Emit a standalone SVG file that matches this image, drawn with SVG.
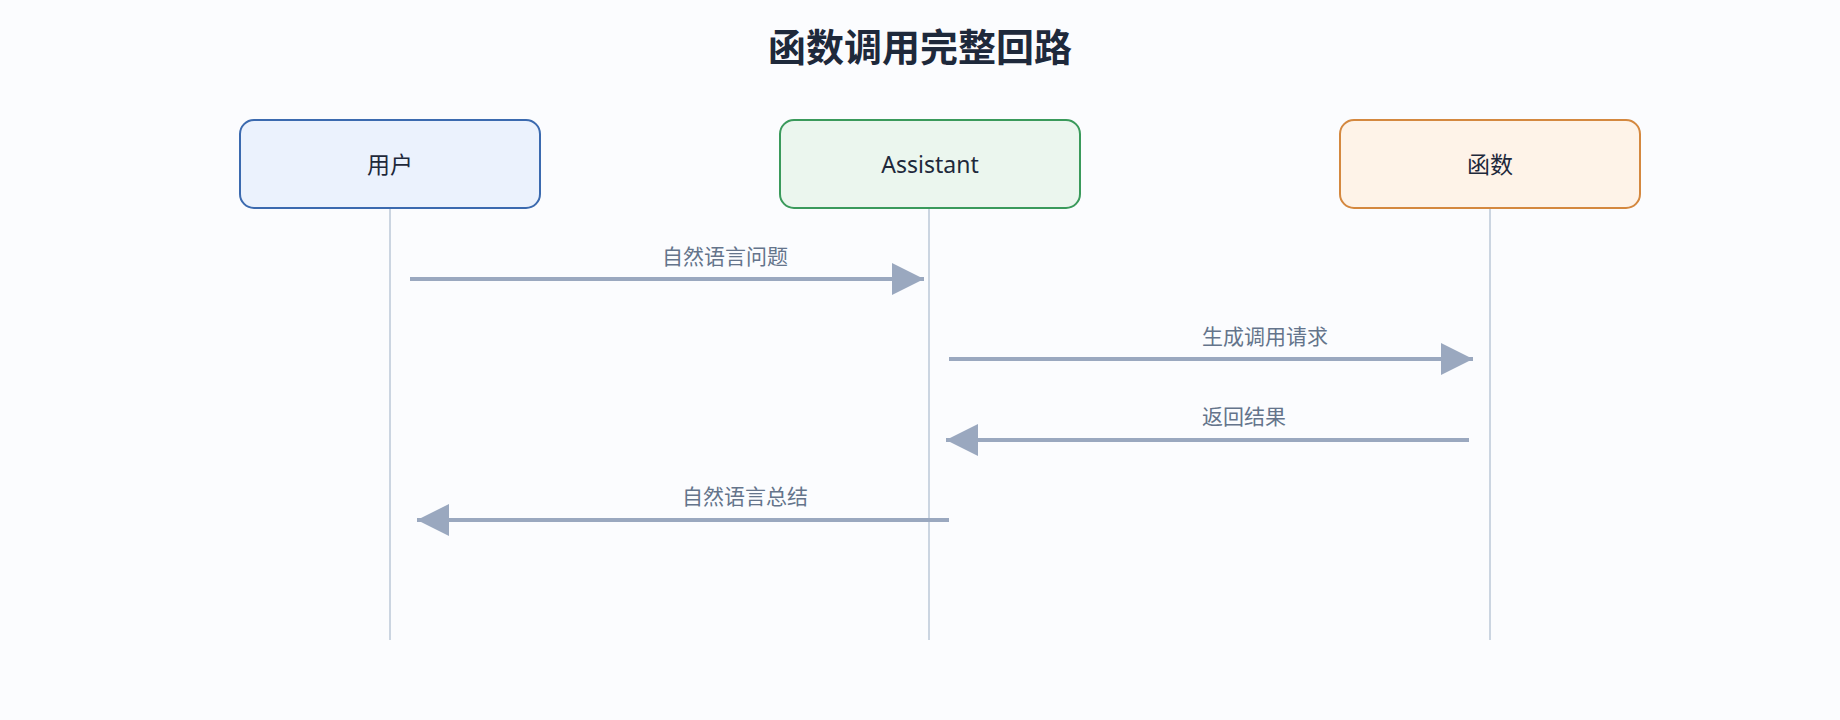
<svg xmlns="http://www.w3.org/2000/svg" width="1840" height="720" viewBox="0 0 1840 720">
<style>
.box{stroke-width:2}
.nt{font-family:"Noto Sans","Noto Sans CJK SC",sans-serif;font-size:23px;fill:#1e293b;text-anchor:middle;dominant-baseline:central}
.lbl{font-family:"Noto Sans","Noto Sans CJK SC",sans-serif;font-size:21px;fill:#64748b;text-anchor:middle}
.life{stroke:#cbd5e1;stroke-width:2}
.msg{stroke:#9aa8bf;stroke-width:4;fill:none}
</style>
<defs>
<marker id="ah" viewBox="0 0 10 10" refX="10" refY="5" markerWidth="8" markerHeight="8" markerUnits="strokeWidth" orient="auto">
<path d="M0,0 L10,5 L0,10 z" fill="#9aa8bf"/>
</marker>
</defs>
<rect width="1840" height="720" fill="#fbfcfe"/>
<text x="920" y="61" text-anchor="middle" font-family="Noto Sans CJK SC, sans-serif" font-weight="bold" font-size="38" fill="#1e293b">函数调用完整回路</text>
<g id="lifelines">
<line class="life" x1="390" y1="208" x2="390" y2="640"/>
<line class="life" x1="929" y1="208" x2="929" y2="640"/>
<line class="life" x1="1490" y1="208" x2="1490" y2="640"/>
</g>
<g id="user"><rect class="box" x="240" y="120" width="300" height="88" rx="14" fill="#ebf2fd" stroke="#3b6aaf"/><text class="nt" x="390" y="164">用户</text></g>
<g id="assistant"><rect class="box" x="780" y="120" width="300" height="88" rx="14" fill="#ebf6ee" stroke="#3a9a5b"/><text class="nt" x="930" y="164">Assistant</text></g>
<g id="func"><rect class="box" x="1340" y="120" width="300" height="88" rx="14" fill="#fef3e8" stroke="#d4883f"/><text class="nt" x="1490" y="164">函数</text></g>
<g id="connectors">
<line class="msg" x1="410" y1="279" x2="924" y2="279" marker-end="url(#ah)"/>
<text class="lbl" x="725" y="264">自然语言问题</text>
<line class="msg" x1="949" y1="359" x2="1473" y2="359" marker-end="url(#ah)"/>
<text class="lbl" x="1265" y="344">生成调用请求</text>
<line class="msg" x1="1469" y1="440" x2="946" y2="440" marker-end="url(#ah)"/>
<text class="lbl" x="1244" y="424">返回结果</text>
<line class="msg" x1="949" y1="520" x2="417" y2="520" marker-end="url(#ah)"/>
<text class="lbl" x="745" y="504">自然语言总结</text>
</g>
</svg>
